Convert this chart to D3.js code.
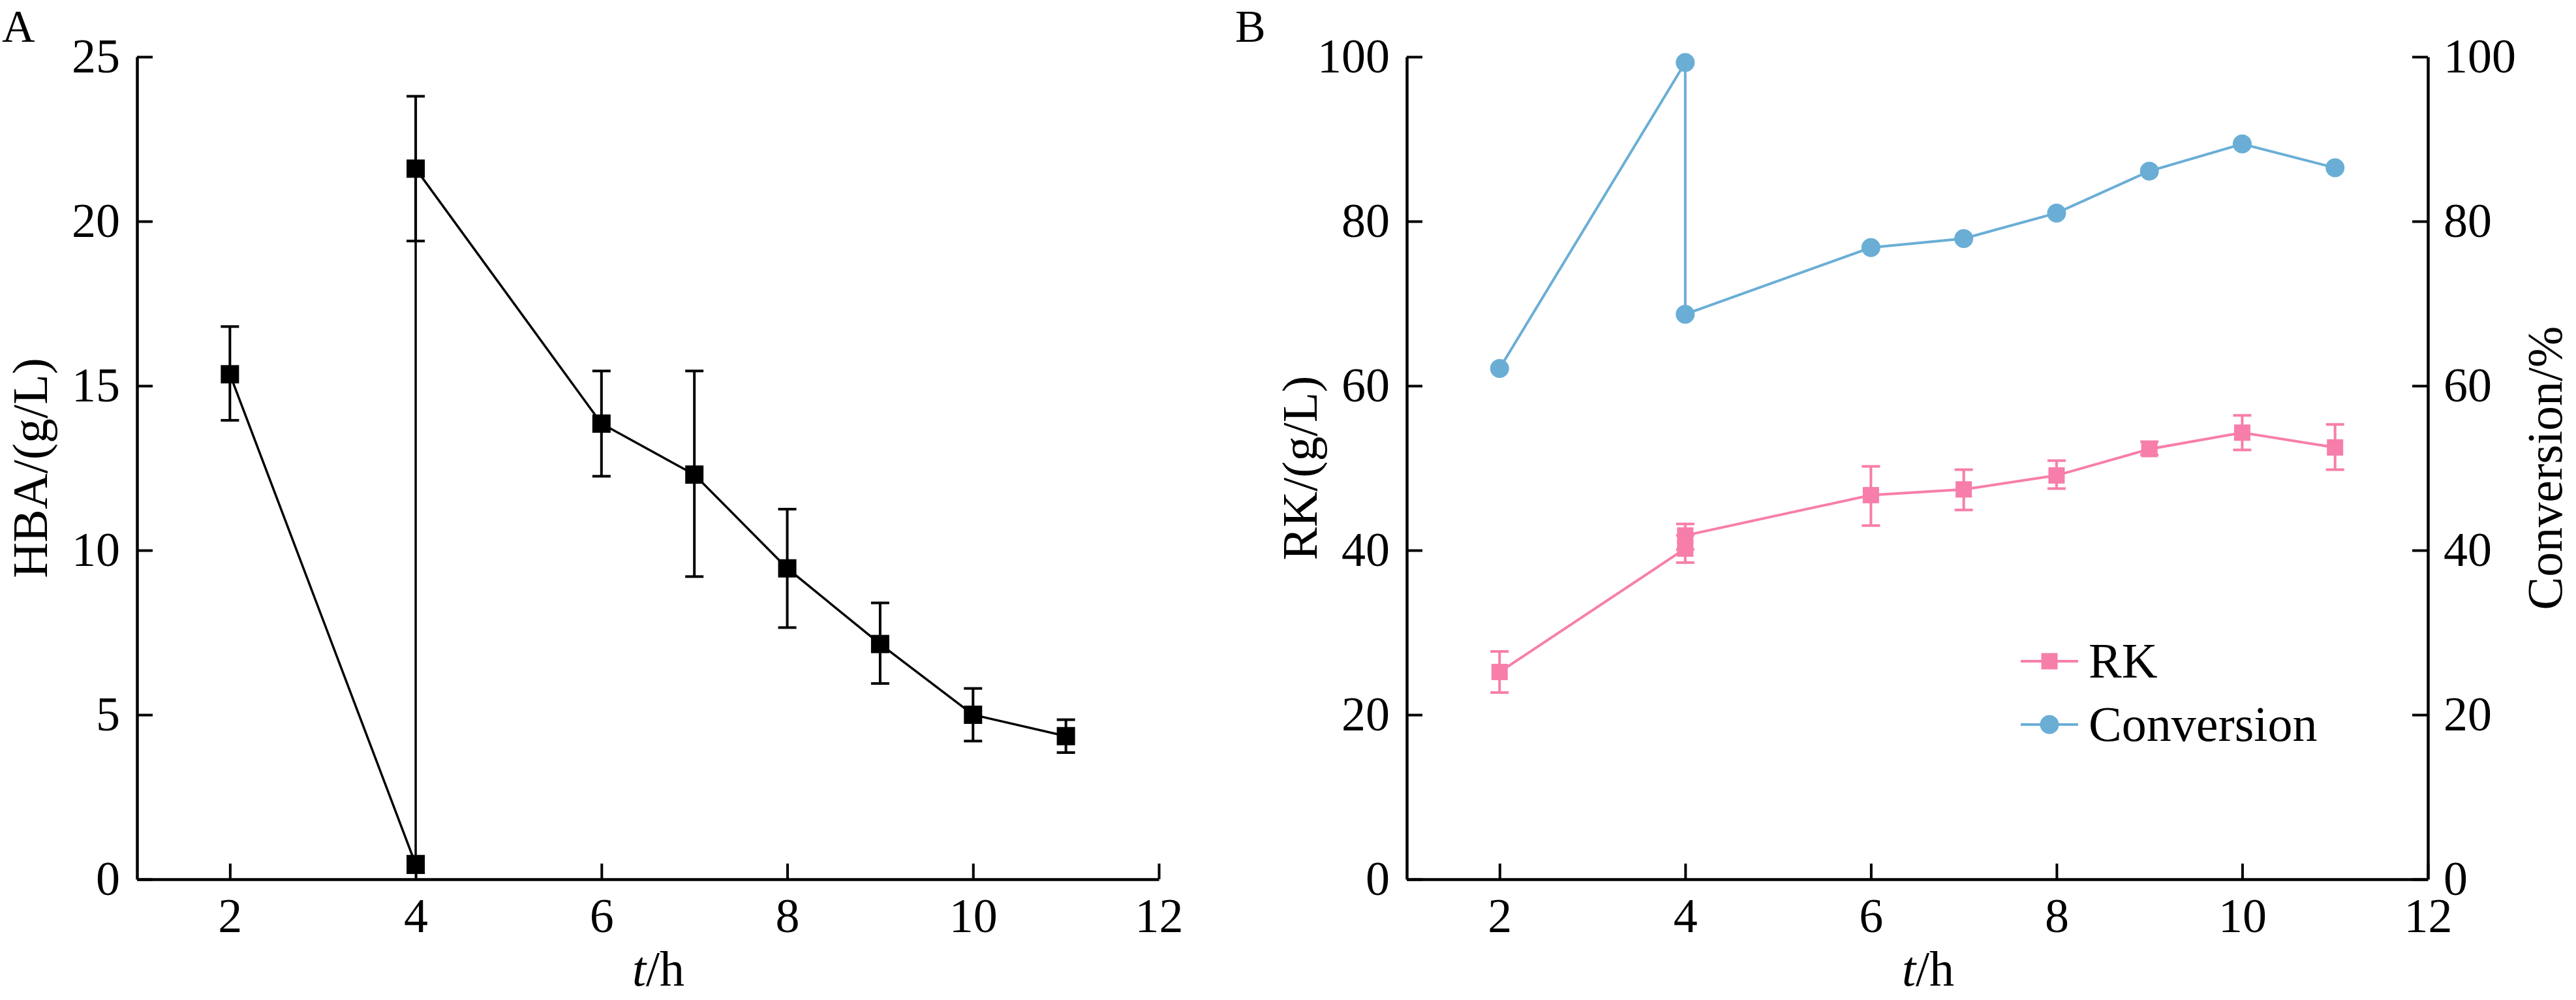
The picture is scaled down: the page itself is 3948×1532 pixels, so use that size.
<!DOCTYPE html>
<html>
<head>
<meta charset="utf-8">
<script src="https://cdn.jsdelivr.net/npm/d3@7"></script>
<style>
  body { margin: 0; background: #fff; }
  svg { display: block; }
</style>
</head>
<body>
<svg id="chart"></svg>
<script>
/* global d3 */
const width = 3948
const height = 1532

// panel A: HBA (g/L)
const hbaTime = [2, 4, 4, 6, 7, 8, 9, 10, 11]
const hbaMean = [15.35, 0.45, 21.6, 13.85, 12.3, 9.45, 7.15, 5.0, 4.35]
const hbaLow = [13.95, 0.2, 19.4, 12.25, 9.2, 7.65, 5.95, 4.2, 3.85]
const hbaHigh = [16.8, 0.7, 23.8, 15.45, 15.45, 11.25, 8.4, 5.8, 4.85]

// panel B: RK (g/L) and conversion (%)
const rkTime = [2, 4, 4, 6, 7, 8, 9, 10, 11]
const rkMean = [25.2, 40.2, 41.8, 46.7, 47.4, 49.1, 52.3, 54.3, 52.5]
const rkLow = [22.7, 38.5, 40.1, 43.0, 44.9, 47.5, 51.6, 52.2, 49.8]
const rkHigh = [27.7, 41.8, 43.2, 50.2, 49.8, 50.9, 53.2, 56.4, 55.3]
const convTime = [2, 4, 4, 6, 7, 8, 9, 10, 11]
const convVal = [62.1, 99.3, 68.7, 76.8, 77.9, 81.0, 86.1, 89.4, 86.5]

const xTicks = [2, 4, 6, 8, 10, 12]
const hbaTicks = [0, 5, 10, 15, 20, 25]
const rkTicks = [0, 20, 40, 60, 80, 100]
const convTicks = [0, 20, 40, 60, 80, 100]
const legendNames = ['RK', 'Conversion']

const pink = '#f77eaa'
const blue = '#6aaed6'
const font = "'Liberation Serif', 'Times New Roman', serif"

const svg = d3.select('#chart')
  .attr('width', width)
  .attr('height', height)
  .style('font-family', font)

const yTop = 87
const yBottom = 1347

const xA = d3.scaleLinear().domain([1, 12]).range([210, 1776])
const yA = d3.scaleLinear().domain([0, 25]).range([yBottom, yTop])
const xB = d3.scaleLinear().domain([1, 12]).range([2156, 3721])
const yB = d3.scaleLinear().domain([0, 100]).range([yBottom, yTop])
const yC = d3.scaleLinear().domain([0, 100]).range([yBottom, yTop])

const styleAxis = g => {
  g.attr('font-family', font).attr('font-size', 74)
  g.select('.domain').attr('stroke-width', 4.5)
  g.selectAll('.tick line').attr('stroke-width', 4)
  g.selectAll('.tick text').attr('fill', '#000')
}

const drawAxes = (x, y, tickVals) => {
  svg.append('g')
    .attr('transform', `translate(0, ${yBottom})`)
    .call(d3.axisBottom(x).tickValues(xTicks).tickSizeInner(-24).tickSizeOuter(0).tickPadding(28))
    .call(styleAxis)
  svg.append('g')
    .attr('transform', `translate(${x.range()[0]}, 0)`)
    .call(d3.axisLeft(y).tickValues(tickVals).tickSizeInner(-24).tickSizeOuter(0).tickPadding(26))
    .call(styleAxis)
}

drawAxes(xA, yA, hbaTicks)
drawAxes(xB, yB, rkTicks)

svg.append('g')
  .attr('transform', `translate(${xB.range()[1]}, 0)`)
  .call(d3.axisRight(yC).tickValues(convTicks).tickSizeInner(-24).tickSizeOuter(0).tickPadding(24))
  .call(styleAxis)

// axis titles
const xTitle = (cx) => {
  const t = svg.append('text')
    .attr('x', cx)
    .attr('y', 1510)
    .attr('text-anchor', 'middle')
    .attr('font-size', 76)
  t.append('tspan').attr('font-style', 'italic').text('t')
  t.append('tspan').text('/h')
}
xTitle(1009)
xTitle(2955)

const yTitle = (x, label) => {
  svg.append('text')
    .attr('transform', `translate(${x}, ${(yTop + yBottom) / 2}) rotate(-90)`)
    .attr('text-anchor', 'middle')
    .attr('font-size', 76)
    .text(label)
}
yTitle(72, 'HBA/(g/L)')
yTitle(2018, 'RK/(g/L)')
yTitle(3926, 'Conversion/%')

// panel letters
svg.append('text').attr('x', 3).attr('y', 64).attr('font-size', 70).text('A')
svg.append('text').attr('x', 1893).attr('y', 64).attr('font-size', 70).text('B')

// error bars helper
const errorBars = (x, y, times, low, high, color) => {
  const g = svg.append('g').attr('stroke', color).attr('stroke-width', 4)
  const idx = d3.range(times.length)
  g.selectAll('line.v').data(idx).enter().append('line')
    .attr('x1', i => x(times[i])).attr('x2', i => x(times[i]))
    .attr('y1', i => y(low[i])).attr('y2', i => y(high[i]))
  g.selectAll('line.lo').data(idx).enter().append('line')
    .attr('x1', i => x(times[i]) - 14).attr('x2', i => x(times[i]) + 14)
    .attr('y1', i => y(low[i])).attr('y2', i => y(low[i]))
  g.selectAll('line.hi').data(idx).enter().append('line')
    .attr('x1', i => x(times[i]) - 14).attr('x2', i => x(times[i]) + 14)
    .attr('y1', i => y(high[i])).attr('y2', i => y(high[i]))
}

const drawLine = (x, y, times, vals, color, w) => {
  const line = d3.line()
    .x(i => x(times[i]))
    .y(i => y(vals[i]))
  svg.append('path')
    .attr('d', line(d3.range(times.length)))
    .attr('fill', 'none')
    .attr('stroke', color)
    .attr('stroke-width', w)
}

const squares = (x, y, times, vals, color, s) => {
  svg.append('g').selectAll('rect')
    .data(d3.range(times.length))
    .enter()
    .append('rect')
    .attr('x', i => x(times[i]) - s / 2)
    .attr('y', i => y(vals[i]) - s / 2)
    .attr('width', s)
    .attr('height', s)
    .attr('fill', color)
}

// panel A
errorBars(xA, yA, hbaTime, hbaLow, hbaHigh, '#000')
drawLine(xA, yA, hbaTime, hbaMean, '#000', 3.5)
squares(xA, yA, hbaTime, hbaMean, '#000', 28)

// panel B
drawLine(xB, yC, convTime, convVal, blue, 4)
svg.append('g').selectAll('circle')
  .data(d3.range(convTime.length))
  .enter()
  .append('circle')
  .attr('cx', i => xB(convTime[i]))
  .attr('cy', i => yC(convVal[i]))
  .attr('r', 14.5)
  .attr('fill', blue)

errorBars(xB, yB, rkTime, rkLow, rkHigh, pink)
drawLine(xB, yB, rkTime, rkMean, pink, 4)
squares(xB, yB, rkTime, rkMean, pink, 25)

// legend
const legendY = [1013, 1110]
const legendColors = [pink, blue]
const legend = svg.append('g')
legendNames.forEach((name, i) => {
  legend.append('line')
    .attr('x1', 3097).attr('x2', 3185)
    .attr('y1', legendY[i]).attr('y2', legendY[i])
    .attr('stroke', legendColors[i])
    .attr('stroke-width', 4)
  if (i === 0) {
    legend.append('rect')
      .attr('x', 3141 - 12.5).attr('y', legendY[i] - 12.5)
      .attr('width', 25).attr('height', 25)
      .attr('fill', pink)
  } else {
    legend.append('circle')
      .attr('cx', 3141).attr('cy', legendY[i])
      .attr('r', 14.5)
      .attr('fill', blue)
  }
  legend.append('text')
    .attr('x', 3201)
    .attr('y', legendY[i] + 25)
    .attr('font-size', 76)
    .text(name)
})
</script>
</body>
</html>
